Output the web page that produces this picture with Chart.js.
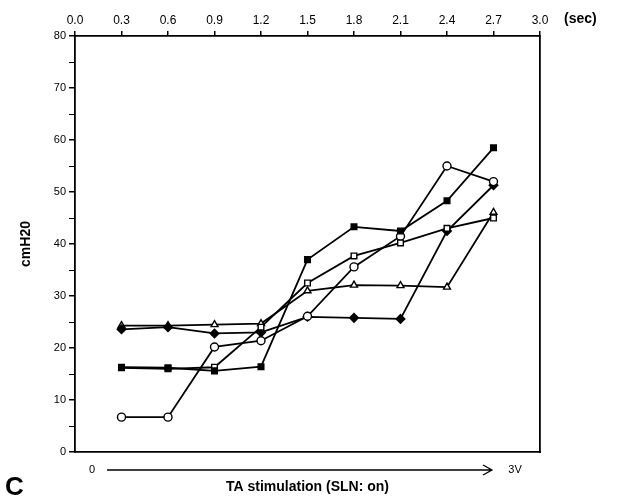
<!DOCTYPE html>
<html>
<head>
<meta charset="utf-8">
<script src="https://cdn.jsdelivr.net/npm/chart.js@4.4.1/dist/chart.umd.min.js"></script>
<style>
  html, body { margin: 0; padding: 0; background: #fff; }
  .chart-wrap { position: relative; width: 619px; height: 500px; }
</style>
</head>
<body>
<div class="chart-wrap"><canvas id="cm-chart"></canvas></div>
<script>

// время стимуляции (sec)
const stimTimes = [0.3, 0.6, 0.9, 1.2, 1.5, 1.8, 2.1, 2.4, 2.7];
const secTicks = [0.0, 0.3, 0.6, 0.9, 1.2, 1.5, 1.8, 2.1, 2.4, 2.7, 3.0];
const pressureTicks = [0, 5, 10, 15, 20, 25, 30, 35, 40, 45, 50, 55, 60, 65, 70, 75, 80];

// cmH20 по сериям
const filledSquare = [16.3, 16.2, 15.6, 16.4, 37.0, 43.3, 42.5, 48.3, 58.5];
const openSquare = [16.2, 16.0, 16.3, 24.0, 32.5, 37.7, 40.2, 43.0, 45.0];
const openCircle = [6.7, 6.7, 20.2, 21.4, 26.1, 35.6, 41.5, 55.0, 52.0];
const filledDiamond = [23.6, 24.0, 22.8, 23.0, 26.0, 25.8, 25.6, 42.5, 51.3];
const openTriangle = [24.3, 24.3, 24.5, 24.7, 31.0, 32.1, 32.0, 31.7, 46.1];

const fontFamily = '"Liberation Sans", Arial, Helvetica, sans-serif';

function series(values, style, fill) {
    return {
        data: stimTimes.map((t, i) => ({x: t, y: values[i]})),
        xAxisID: 'x',
        yAxisID: 'y',
        borderColor: '#000',
        borderWidth: 1.8,
        pointStyle: style,
        pointRadius: style === 'rectRot' ? 4.3 : 4,
        pointBorderWidth: 1.4,
        pointBorderColor: '#000',
        pointBackgroundColor: fill ? '#000' : '#fff',
        tension: 0
    };
}

// подписи вокруг графика
const extras = {
    id: 'extras',
    afterDraw(chart) {
        const c = chart.ctx;
        c.save();
        c.fillStyle = '#000';
        c.strokeStyle = '#000';

        c.font = 'bold 14px ' + fontFamily;
        c.textBaseline = 'middle';
        c.textAlign = 'left';
        c.fillText('(sec)', 564, 19);

        c.font = '11px ' + fontFamily;
        c.textAlign = 'center';
        c.fillText('0', 92, 470);
        c.fillText('3V', 515, 470);

        c.lineWidth = 1.3;
        c.beginPath();
        c.moveTo(107, 470);
        c.lineTo(492, 470);
        c.moveTo(483, 465);
        c.lineTo(492, 470);
        c.lineTo(483, 475);
        c.stroke();

        c.font = 'bold 26px ' + fontFamily;
        c.textAlign = 'left';
        c.textBaseline = 'alphabetic';
        c.fillText('C', 5, 495);
        c.restore();
    }
};

const ctx = document.getElementById('cm-chart').getContext('2d');
const cmChart = new Chart(ctx, {
    type: 'line',
    data: {
        datasets: [
            series(filledSquare, 'rect', true),
            series(openSquare, 'rect', false),
            series(openCircle, 'circle', false),
            series(filledDiamond, 'rectRot', true),
            series(openTriangle, 'triangle', false)
        ]
    },
    options: {
        responsive: true,
        maintainAspectRatio: false,
        animation: false,
        devicePixelRatio: 1,
        layout: { padding: 0 },
        plugins: {
            legend: { display: false },
            tooltip: { enabled: false }
        },
        scales: {
            x: {
                type: 'linear',
                position: 'top',
                min: 0,
                max: 3,
                afterBuildTicks: s => { s.ticks = secTicks.map(v => ({value: v})); },
                afterFit: s => { s.height = 36; },
                ticks: {
                    color: '#000',
                    font: { family: fontFamily, size: 12 },
                    padding: 3,
                    maxRotation: 0,
                    autoSkip: false,
                    callback: v => v.toFixed(1)
                },
                grid: { drawOnChartArea: false, tickLength: 5, color: '#000', lineWidth: 1.5 },
                border: { color: '#000', width: 1.8 }
            },
            xb: {
                type: 'linear',
                position: 'bottom',
                min: 0,
                max: 3,
                afterFit: s => { s.height = 48; },
                ticks: { display: false },
                grid: { display: false },
                border: { color: '#000', width: 1.8 },
                title: {
                    display: true,
                    text: 'TA stimulation (SLN: on)',
                    color: '#000',
                    font: { family: fontFamily, size: 14, weight: 'bold' },
                    padding: { top: 0, bottom: 4 }
                }
            },
            y: {
                position: 'left',
                min: 0,
                max: 80,
                afterBuildTicks: s => { s.ticks = pressureTicks.map(v => ({value: v})); },
                afterFit: s => { s.width = 75; },
                ticks: {
                    color: '#000',
                    font: { family: fontFamily, size: 11 },
                    padding: 3,
                    autoSkip: false,
                    callback: v => (v % 10 === 0 ? v : '')
                },
                grid: {
                    drawOnChartArea: false,
                    tickLength: 6,
                    color: '#000',
                    lineWidth: c => (c.tick && c.tick.value % 10 === 0 ? 1.5 : 1)
                },
                border: { color: '#000', width: 1.8 },
                title: {
                    display: true,
                    text: 'cmH20',
                    color: '#000',
                    font: { family: fontFamily, size: 14, weight: 'bold' },
                    padding: { top: 18, bottom: 0 }
                }
            },
            yr: {
                position: 'right',
                min: 0,
                max: 80,
                afterFit: s => { s.width = 79; },
                ticks: { display: false },
                grid: { display: false },
                border: { color: '#000', width: 1.8 }
            }
        }
    },
    plugins: [extras]
});

</script>
</body>
</html>
